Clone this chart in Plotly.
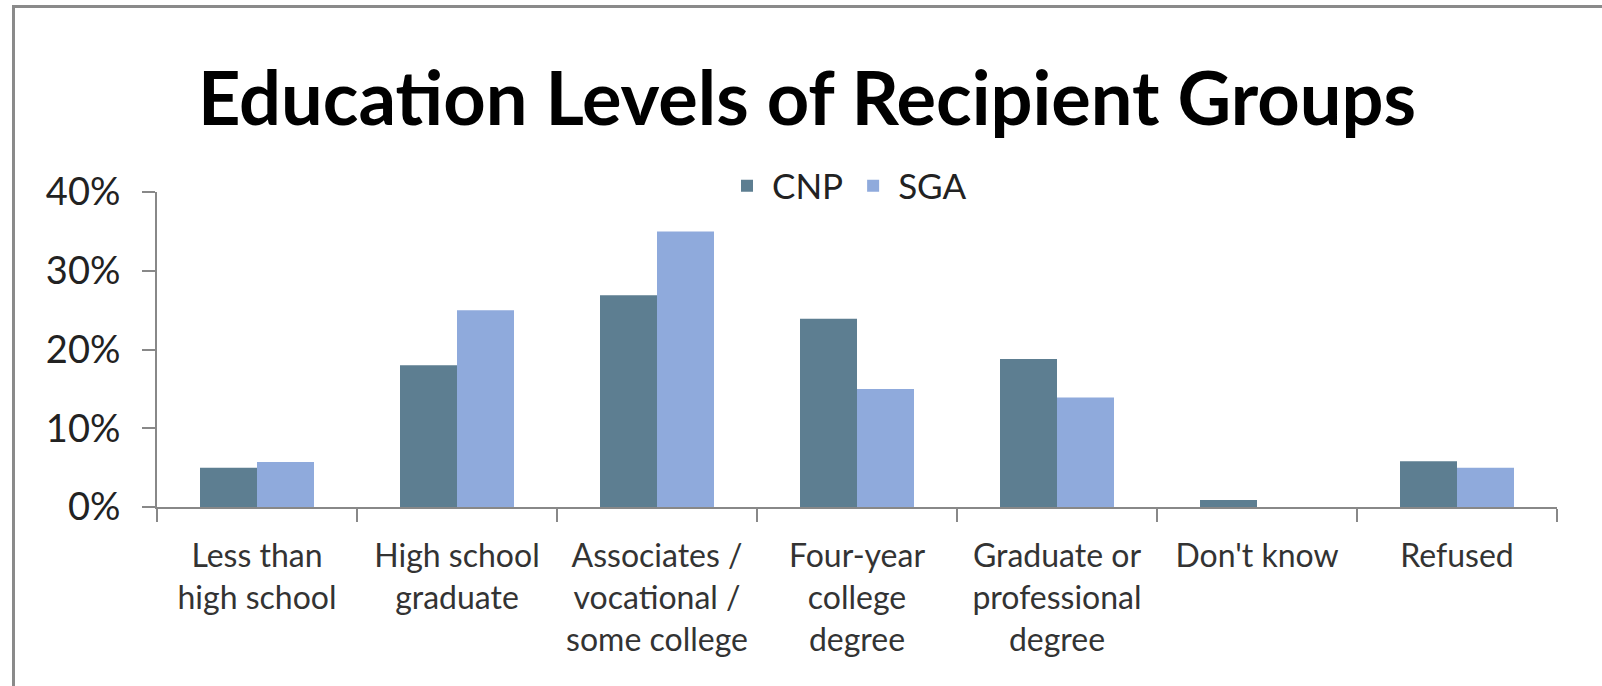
import plotly.graph_objects as go

categories = [
    "Less than<br>high school",
    "High school<br>graduate",
    "Associates /<br>vocational /<br>some college",
    "Four-year<br>college<br>degree",
    "Graduate or<br>professional<br>degree",
    "Don't know",
    "Refused",
]
series_names = ["CNP", "SGA"]
cnp_values = [5.0, 18.0, 26.9, 23.9, 18.8, 0.9, 5.8]
sga_values = [5.7, 25.0, 35.0, 15.0, 13.9, 0.0, 5.0]
y_ticks = [0, 10, 20, 30, 40]
y_tick_labels = ["0%", "10%", "20%", "30%", "40%"]

colors = ["#5D7E91", "#8FAADC"]
FONT = "Lato, 'Open Sans', sans-serif"

W, H = 1602, 686
ML, MR, MT, MB = 157, 45, 192, 179
pw = W - ML - MR
ph = H - MT - MB

def px_x(px):
    return (px - ML) / pw

def px_y(py):
    return (H - MB - py) / ph

fig = go.Figure()
for name, vals, col in zip(series_names, [cnp_values, sga_values], colors):
    fig.add_trace(go.Bar(
        name=name, x=categories, y=vals,
        marker=dict(color=col, line=dict(width=0)),
    ))

# outer frame (chart border)
fig.add_shape(type="rect", xref="paper", yref="paper",
              x0=px_x(13.5), x1=px_x(1620), y0=px_y(6.5), y1=px_y(720),
              line=dict(color="#8A8A8A", width=3), fillcolor="rgba(0,0,0,0)",
              layer="below")

fig.update_layout(
    width=W, height=H,
    margin=dict(l=ML, r=MR, t=MT, b=MB, pad=0),
    paper_bgcolor="white", plot_bgcolor="white",
    barmode="group", bargap=0.43, bargroupgap=0,
    font=dict(family=FONT, color="#222222"),
    title=dict(text="<b>Education Levels of Recipient Groups</b>",
               x=807 / W, xanchor="center", xref="container",
               y=1 - 99 / H, yanchor="middle", yref="container",
               font=dict(family=FONT, size=74, color="#000000")),
    legend=dict(orientation="h", x=px_x(847), xanchor="center",
                y=px_y(186), yanchor="middle",
                font=dict(family=FONT, size=35, color="#222222"),
                bgcolor="rgba(0,0,0,0)", itemwidth=40, traceorder="normal"),
    showlegend=True,
)
fig.update_xaxes(
    showline=True, linecolor="#888888", linewidth=2,
    ticks="outside", tickson="boundaries", ticklen=13, tickcolor="#888888", tickwidth=2,
    tickfont=dict(family=FONT, size=32, color="#333333"),
    ticklabelstandoff=20, showgrid=False, zeroline=False, fixedrange=True,
)
fig.update_yaxes(
    range=[0, 40], tickvals=y_ticks, ticktext=y_tick_labels,
    showline=True, linecolor="#888888", linewidth=2,
    ticks="outside", ticklen=13, tickcolor="#888888", tickwidth=2,
    tickfont=dict(family=FONT, size=38, color="#222222"),
    ticklabelstandoff=14, showgrid=False, zeroline=False, fixedrange=True,
)

fig.write_html("out.html", config={"displayModeBar": False},
               post_script="document.body.style.margin='0';document.body.style.overflow='hidden';")
